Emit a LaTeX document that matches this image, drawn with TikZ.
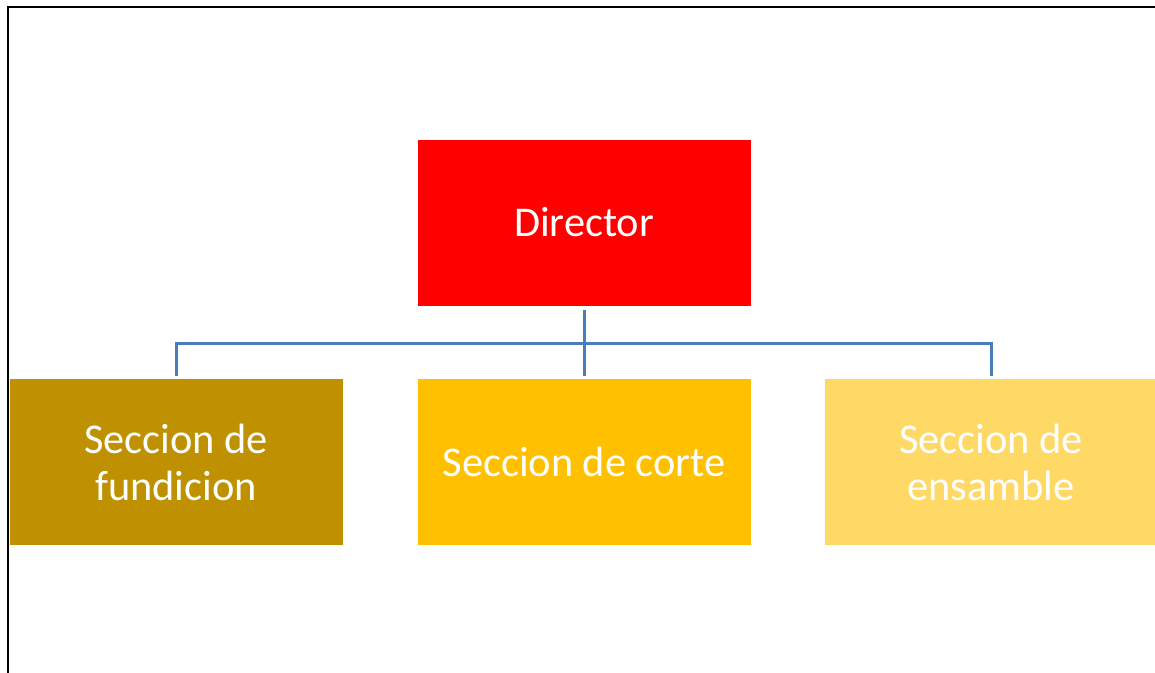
\documentclass[tikz,border=0pt]{standalone}
\usepackage{fontspec}
\setmainfont{Carlito}
\definecolor{dirred}{HTML}{FF0000}
\definecolor{fundgold}{HTML}{BF9000}
\definecolor{cortegold}{HTML}{FFC000}
\definecolor{ensgold}{HTML}{FFD966}
\definecolor{connblue}{HTML}{4A7EBB}
\tikzset{
  box/.style={draw=none, minimum width=333pt, minimum height=166pt, inner sep=0pt,
    text=white, align=center, font=\fontsize{42.4}{47}\selectfont},
  conn/.style={draw=connblue, line width=3pt},
  frame/.style={draw=black, line width=2pt}
}
\begin{document}
\begin{tikzpicture}[x=1pt,y=-1pt]
\useasboundingbox (0,0) rectangle (1155,672);
\clip (0,0) rectangle (1155,672);
\fill[white] (0,0) rectangle (1155,672);
\draw[frame] (7.5,680) -- (7.5,6.5) -- (1165,6.5);
\node[box, fill=dirred] (dir) at (584,222.5) {Director};
\node[box, fill=fundgold] (fund) at (176,462) {Seccion de\\fundicion};
\node[box, fill=cortegold] (corte) at (584,462) {Seccion de corte};
\node[box, fill=ensgold] (ens) at (991,462) {Seccion de\\ensamble};
\coordinate (bar) at (584,343);
\draw[conn, shorten <=4pt, shorten >=3pt] (dir.south) -- (corte.north);
\draw[conn, shorten <=3pt, shorten >=3pt] (fund.north) |- (bar) -| (ens.north);
\end{tikzpicture}
\end{document}
